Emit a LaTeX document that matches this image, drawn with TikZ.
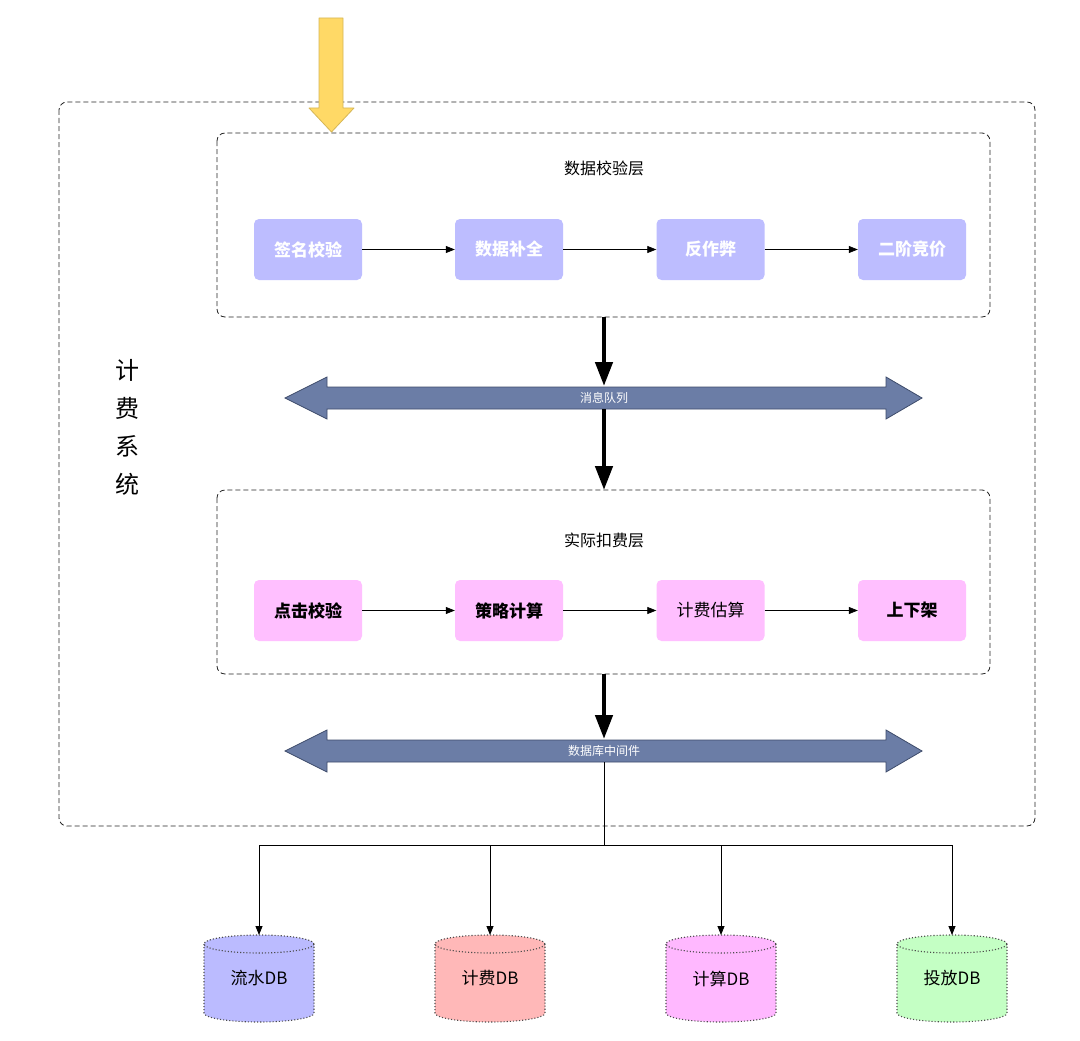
\documentclass[tikz,border=0pt]{standalone}
\usepackage{fontspec}
\setmainfont{Noto Sans CJK SC}
\usetikzlibrary{arrows.meta,calc}
\definecolor{lav}{HTML}{BDBDFF}
\definecolor{pnk}{HTML}{FFBFFF}
\definecolor{busfill}{HTML}{6B7DA6}
\definecolor{busdraw}{HTML}{3E4C6B}
\definecolor{ylw}{HTML}{FFD966}
\definecolor{ylwd}{HTML}{D6B656}
\definecolor{dbblue}{HTML}{BBBBFF}
\definecolor{dbred}{HTML}{FFB8B8}
\definecolor{dbpink}{HTML}{FFB8FF}
\definecolor{dbgreen}{HTML}{C4FFC4}
\tikzset{
  frame/.style={draw=black!85, dash pattern=on 5pt off 3pt, rounded corners=8pt, line width=0.8pt},
  stagebox/.style={rounded corners=5pt, minimum width=108pt, minimum height=61pt, inner sep=0pt, font=\fontsize{17}{19}\selectfont},
  topbox/.style={stagebox, fill=lav, text=white, font=\fontsize{17}{19}\selectfont\bfseries},
  botbox/.style={stagebox, fill=pnk, text=black},
  boldtxt/.style={font=\fontsize{17}{19}\selectfont\bfseries},
  thin/.style={-{Triangle[width=7pt,length=9pt]}, line width=0.8pt},
  thick/.style={-{Triangle[width=17pt,length=24pt]}, line width=4.5pt},
  title/.style={font=\fontsize{16}{18}\selectfont},
  bus/.style={fill=busfill, draw=busdraw, line width=0.8pt},
  buslabel/.style={text=white, font=\fontsize{12}{14}\selectfont, inner sep=1pt},
  dblabel/.style={font=\fontsize{17}{19}\selectfont, inner sep=0pt},
  dbline/.style={draw=black!70, dotted, line width=1.1pt}
}
\newcommand\dbcyl[2]{%
  \fill[#2] ($(#1)+(-55,-34.5)$) -- ($(#1)+(-55,34.5)$)
     arc[start angle=180,end angle=360,x radius=55pt,y radius=9pt]
     -- ($(#1)+(55,-34.5)$)
     arc[start angle=0,end angle=180,x radius=55pt,y radius=9pt] -- cycle;
  \draw[dbline] ($(#1)+(-55,-34.5)$) -- ($(#1)+(-55,34.5)$)
     arc[start angle=180,end angle=360,x radius=55pt,y radius=9pt]
     -- ($(#1)+(55,-34.5)$);
  \draw[dbline] ($(#1)+(0,-34.5)$) ellipse[x radius=55pt,y radius=9pt];
}
\begin{document}
\begin{tikzpicture}[x=1pt,y=-1pt]
\useasboundingbox[fill=white] (0,0) rectangle (1080,1041);
% outer frame
\draw[frame] (59,102) rectangle (1035,826);
% left vertical label
\node[font=\fontsize{24}{38}\selectfont, align=center] (sys) at (127,427) {计\\费\\系\\统};
% upper layer
\draw[frame] (217,133) rectangle (990,317);
\node[title] (t1) at (604,168) {数据校验层};
\node[topbox] (a1) at (308,249.5) {签名校验};
\node[topbox] (a2) at (509,249.5) {数据补全};
\node[topbox] (a3) at (710.5,249.5) {反作弊};
\node[topbox] (a4) at (912,249.5) {二阶竞价};
\draw[thin] (a1) -- (a2);
\draw[thin] (a2) -- (a3);
\draw[thin] (a3) -- (a4);
% yellow input arrow
\draw[fill=ylw, draw=ylwd, line width=0.8pt, line join=round]
  (319,18) -- (343,18) -- (343,108) -- (354,108) -- (331.5,132) -- (309,108) -- (319,108) -- cycle;
% message queue bus
\draw[bus] (285,398) -- (327,377) -- (327,387) -- (886,387) -- (886,377) -- (922,398)
  -- (886,419) -- (886,409) -- (327,409) -- (327,419) -- cycle;
\node[buslabel] (mq) at (604,398) {消息队列};
\coordinate (l1b) at (604,317);
\coordinate (mqtop) at (604,386);
\coordinate (mqbot) at (604,409);
\coordinate (l2t) at (604,490);
\draw[thick] (l1b) -- (mqtop);
\draw[thick] (mqbot) -- (l2t);
% lower layer
\draw[frame] (217,490) rectangle (990,674);
\node[title] (t2) at (604,540) {实际扣费层};
\node[botbox, boldtxt] (b1) at (308,610.5) {点击校验};
\node[botbox, boldtxt] (b2) at (509,610.5) {策略计算};
\node[botbox] (b3) at (710.5,610.5) {计费估算};
\node[botbox, boldtxt] (b4) at (912,610.5) {上下架};
\draw[thin] (b1) -- (b2);
\draw[thin] (b2) -- (b3);
\draw[thin] (b3) -- (b4);
% db middleware bus
\draw[bus] (285,751) -- (327,730) -- (327,740) -- (886,740) -- (886,730) -- (922,751)
  -- (886,772) -- (886,762) -- (327,762) -- (327,772) -- cycle;
\node[buslabel] (dbm) at (604,751) {数据库中间件};
\coordinate (l2b) at (604,674);
\coordinate (dbmtop) at (604,739);
\coordinate (dbmbot) at (604,762);
\draw[thick] (l2b) -- (dbmtop);
% databases
\coordinate (c1) at (259,978.5);
\coordinate (c2) at (490,978.5);
\coordinate (c3) at (721,978.5);
\coordinate (c4) at (952,978.5);
\dbcyl{c1}{dbblue}
\dbcyl{c2}{dbred}
\dbcyl{c3}{dbpink}
\dbcyl{c4}{dbgreen}
\node[dblabel] (d1) at (c1) {流水DB};
\node[dblabel] (d2) at (c2) {计费DB};
\node[dblabel] (d3) at (c3) {计算DB};
\node[dblabel] (d4) at (c4) {投放DB};
\coordinate (top1) at (259,935);
\coordinate (top2) at (490,935);
\coordinate (top3) at (721,935);
\coordinate (top4) at (952,935);
\coordinate (split) at (604,845);
\draw[line width=0.8pt] (dbmbot) -- (split);
\draw[line width=0.8pt] (top1 |- split) -- (top4 |- split);
\draw[thin] (top1 |- split) -- (top1);
\draw[thin] (top2 |- split) -- (top2);
\draw[thin] (top3 |- split) -- (top3);
\draw[thin] (top4 |- split) -- (top4);
\end{tikzpicture}
\end{document}
